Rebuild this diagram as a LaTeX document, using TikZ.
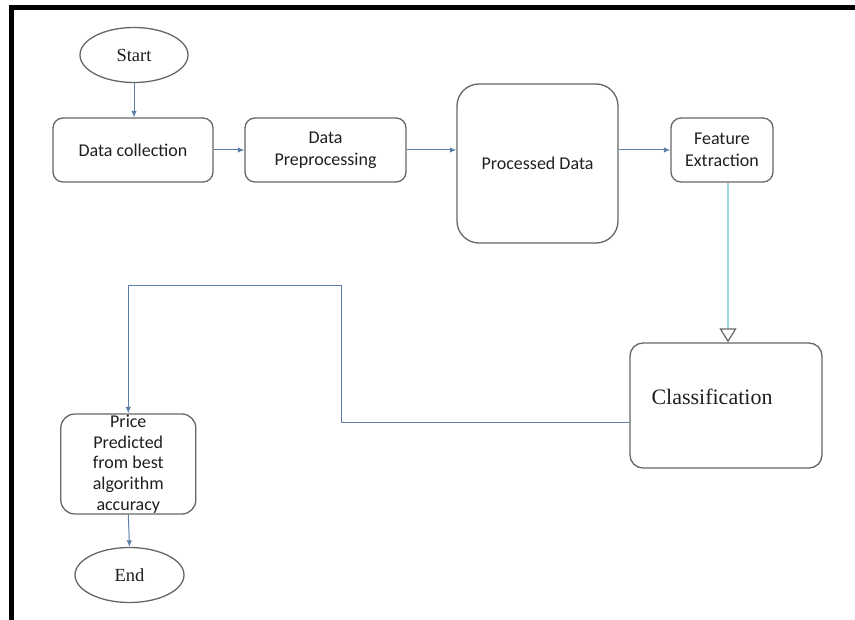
\documentclass[tikz,border=0pt]{standalone}
\usepackage{fontspec}
\setmainfont{Liberation Serif}
\newfontfamily\calfont{Carlito}
\usetikzlibrary{shapes.geometric,arrows.meta}
\definecolor{conncol}{HTML}{5B7FA6}
\definecolor{boxcol}{HTML}{666666}
\definecolor{tealcol}{HTML}{9ED5DC}
\tikzset{
  procbox/.style={draw=boxcol, line width=1.3pt, rounded corners=10pt, inner sep=2pt,
    align=center, font=\calfont\fontsize{18}{22}\selectfont, text=black!88},
  termnode/.style={draw=boxcol, line width=1.3pt, ellipse, inner sep=0pt,
    font=\fontsize{18.5}{21}\selectfont, text=black!88},
  conn/.style={draw=conncol, line width=1pt, -{Latex[length=6.5pt,width=5.5pt]}},
}
\begin{document}
\begin{tikzpicture}[x=1pt,y=-1pt]
\useasboundingbox (0,0) rectangle (855,620);
% frame (top and left only)
\draw[line width=4.5pt, black] (11.5,620) -- (11.5,7.5) -- (855,7.5);

\node[termnode, minimum width=108pt, minimum height=55pt] (start) at (134,55) {Start};
\node[procbox, minimum width=160pt, minimum height=64pt] (dc) at (133,150) {Data collection};
\node[procbox, minimum width=161pt, minimum height=64pt] (dp) at (325.5,150) {Data\\Preprocessing};
\node[procbox, rounded corners=22pt, minimum width=161pt, minimum height=159pt] (pd) at (537.5,163.5) {Processed Data};
\node[procbox, minimum width=102pt, minimum height=64pt] (fe) at (722,150) {Feature\\Extraction};
\node[procbox, rounded corners=13pt, minimum width=192pt, minimum height=125pt] (cls) at (726,405.5) {};
\node[font=\fontsize{22}{25}\selectfont, text=black!88] (clstext) at (712,397) {Classification};
\node[procbox, rounded corners=14pt, minimum width=135pt, minimum height=100pt, inner sep=0pt,
  font=\calfont\fontsize{18}{20.7}\selectfont] (price) at (128.3,464) {Price\\Predicted\\from best\\algorithm\\accuracy};
\node[termnode, minimum width=109pt, minimum height=55pt] (end) at (129.5,575) {End};

\coordinate (r1) at (341.7,286);

\draw[conn] (start.south) -- (start.south |- dc.north);
\draw[conn] (dc.east) -- (dp.west);
\draw[conn] (dp.east) -- (dp.east -| pd.west);
\draw[conn] (pd.east |- fe.west) -- (fe.west);
\draw[draw=tealcol, line width=2.8pt,
  -{Triangle[open, length=14pt, width=17pt, line width=1.2pt, color=boxcol]}]
  ([xshift=6pt]fe.south) -- ([xshift=6pt]fe.south |- cls.north);
\draw[conn] ([yshift=-17pt]cls.west) -| (r1) -| (price.north);
\draw[conn] (price.south) -- (end.north);
\end{tikzpicture}
\end{document}
